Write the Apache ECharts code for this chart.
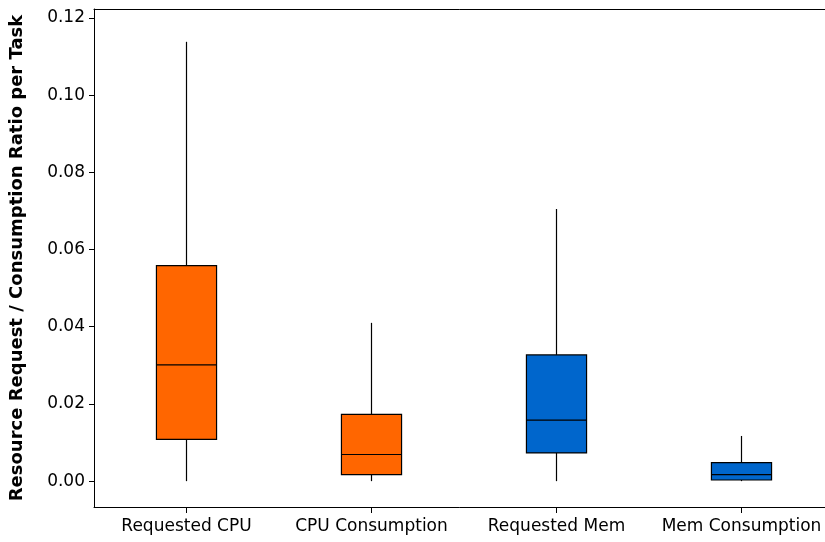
<!DOCTYPE html>
<html>
<head>
<meta charset="utf-8">
<script src="https://cdn.jsdelivr.net/npm/echarts@6/dist/echarts.min.js"></script>
<style>html,body{margin:0;padding:0;background:#fff;overflow:hidden;}#c{width:825px;height:542px;}</style>
</head>
<body>
<div id="c"></div>
<script>
var categories = ['Requested CPU', 'CPU Consumption', 'Requested Mem', 'Mem Consumption'];
var mins    = [0.0000, 0.0000, 0.0000, 0.0000];
var q1s     = [0.0108, 0.0017, 0.0073, 0.0003];
var medians = [0.0301, 0.0069, 0.0158, 0.0017];
var q3s     = [0.0558, 0.0173, 0.0327, 0.0048];
var maxs    = [0.1138, 0.0410, 0.0705, 0.0117];
var yTicks  = [0, 0.02, 0.04, 0.06, 0.08, 0.10, 0.12];

var boxColors = ['#FF6600', '#FF6600', '#0066CC', '#0066CC'];
var FONT = 'DejaVu Sans';

var data = categories.map(function (c, i) {
  return [i, mins[i], q1s[i], medians[i], q3s[i], maxs[i]];
});

var chart = echarts.init(document.getElementById('c'));
chart.setOption({
  animation: false,
  grid: { left: 94, top: 9, width: 740, height: 498, show: false,
    outerBoundsMode: 'none', containLabel: false },
  xAxis: [{
    type: 'category',
    data: categories,
    axisLine: { show: true, onZero: false, lineStyle: { color: '#000', width: 1 } },
    axisTick: { show: true, alignWithLabel: true, length: 6, lineStyle: { color: '#000' } },
    axisLabel: { color: '#000', fontFamily: FONT, fontSize: 17, margin: 11, interval: 0 },
    splitLine: { show: false }
  }, {
    type: 'category',
    position: 'top',
    data: categories,
    axisLine: { show: true, onZero: false, lineStyle: { color: '#000', width: 1 } },
    axisTick: { show: false },
    axisLabel: { show: false },
    splitLine: { show: false }
  }],
  yAxis: {
    type: 'value',
    min: -0.0067,
    max: 0.1223,
    interval: 0.02,
    axisLine: { show: true, lineStyle: { color: '#000', width: 1 } },
    axisTick: { show: true, length: 5, lineStyle: { color: '#000' }, customValues: yTicks },
    axisLabel: { color: '#000', fontFamily: FONT, fontSize: 17, margin: 9, customValues: yTicks,
      formatter: function (v) { return v.toFixed(2); } },
    splitLine: { show: false },
    name: 'Resource Request / Consumption Ratio per Task',
    nameLocation: 'middle',
    nameGap: 68,
    nameTextStyle: { color: '#000', fontFamily: FONT, fontSize: 18, fontWeight: 'bold' }
  },
  series: [{
    type: 'custom',
    xAxisIndex: 0,
    data: data,
    renderItem: function (params, api) {
      var idx = api.value(0);
      var pMin = api.coord([idx, api.value(1)]);
      var pQ1 = api.coord([idx, api.value(2)]);
      var pMed = api.coord([idx, api.value(3)]);
      var pQ3 = api.coord([idx, api.value(4)]);
      var pMax = api.coord([idx, api.value(5)]);
      var band = api.size([1, 0])[0];
      var w = band * 0.325;
      var x = pQ1[0];
      var ls = { stroke: '#000', lineWidth: 1.2 };
      return {
        type: 'group',
        children: [
          { type: 'line', shape: { x1: x, y1: pQ3[1], x2: x, y2: pMax[1] }, style: ls },
          { type: 'line', shape: { x1: x, y1: pQ1[1], x2: x, y2: pMin[1] }, style: ls },
          { type: 'rect', shape: { x: x - w / 2, y: pQ3[1], width: w, height: pQ1[1] - pQ3[1] },
            style: { fill: boxColors[idx], stroke: '#000', lineWidth: 1.2 } },
          { type: 'line', shape: { x1: x - w / 2, y1: pMed[1], x2: x + w / 2, y2: pMed[1] }, style: ls }
        ]
      };
    }
  }]
});
</script>
</body>
</html>
